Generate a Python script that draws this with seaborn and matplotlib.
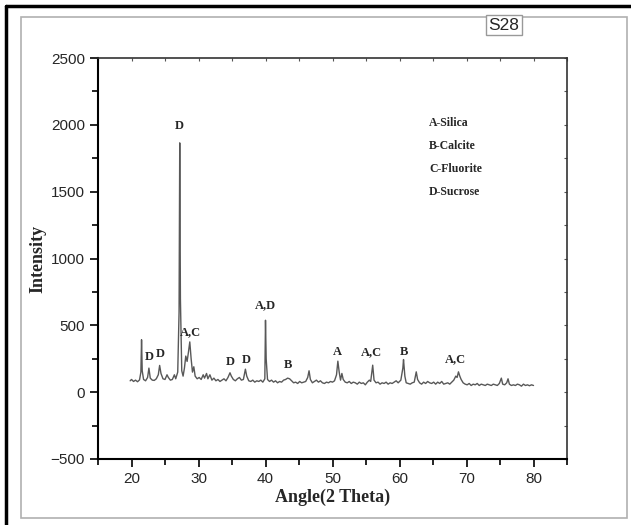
import matplotlib
matplotlib.use("Agg")
import matplotlib.pyplot as plt
from matplotlib.patches import Rectangle
from matplotlib.lines import Line2D
import seaborn as sns
import pandas as pd

# XRD pattern of sample S28
angle = [19.8, 20.0, 20.3, 20.6, 20.9, 21.2, 21.4, 21.5, 21.6, 21.8, 22.1, 22.4, 22.6, 22.8,
         23.1, 23.4, 23.7, 24.0, 24.2, 24.4, 24.7, 25.0, 25.3, 25.5, 25.8, 26.1, 26.4, 26.6,
         26.9, 27.1, 27.2, 27.3, 27.5, 27.7, 27.9, 28.1, 28.3, 28.5, 28.7, 28.9, 29.1, 29.3,
         29.5, 29.8, 30.1, 30.4, 30.7, 30.9, 31.2, 31.4, 31.7, 32.0, 32.3, 32.6, 32.9, 33.2,
         33.5, 33.8, 34.1, 34.4, 34.7, 34.9, 35.2, 35.5, 35.8, 36.1, 36.4, 36.7, 37.0, 37.2,
         37.5, 37.8, 38.1, 38.4, 38.7, 39.0, 39.3, 39.6, 39.9, 40.0, 40.1, 40.3, 40.6, 40.9,
         41.2, 41.5, 41.8, 42.1, 42.4, 42.7, 43.0, 43.3, 43.6, 43.9, 44.2, 44.5, 44.8, 45.1,
         45.4, 45.7, 46.0, 46.3, 46.5, 46.7, 47.0, 47.3, 47.6, 47.9, 48.2, 48.5, 48.8, 49.1,
         49.4, 49.7, 50.0, 50.3, 50.6, 50.8, 51.0, 51.2, 51.4, 51.6, 51.9, 52.2, 52.5, 52.8,
         53.1, 53.4, 53.7, 54.0, 54.3, 54.6, 54.9, 55.2, 55.5, 55.7, 56.0, 56.2, 56.5, 56.8,
         57.1, 57.4, 57.7, 58.0, 58.3, 58.6, 58.9, 59.2, 59.5, 59.8, 60.2, 60.5, 60.6, 60.8,
         61.0, 61.3, 61.6, 61.9, 62.2, 62.5, 62.7, 63.0, 63.3, 63.6, 63.9, 64.2, 64.5, 64.8,
         65.1, 65.4, 65.7, 66.0, 66.3, 66.6, 66.9, 67.2, 67.5, 67.8, 68.1, 68.4, 68.6, 68.8,
         69.0, 69.2, 69.5, 69.8, 70.1, 70.4, 70.7, 71.0, 71.3, 71.6, 71.9, 72.2, 72.5, 72.8,
         73.1, 73.4, 73.7, 74.0, 74.3, 74.6, 74.9, 75.2, 75.4, 75.7, 76.0, 76.2, 76.4, 76.7,
         77.0, 77.3, 77.6, 77.9, 78.2, 78.5, 78.8, 79.1, 79.4, 79.7, 80.0]
intensity = [85, 95, 80, 90, 78, 92, 150, 392, 160, 95, 85, 110, 180, 105,
             90, 88, 100, 130, 200, 140, 100, 95, 130, 110, 90, 95, 130, 100,
             150, 600, 1865, 700, 160, 120, 180, 270, 230, 300, 376, 250, 150, 190,
             120, 100, 110, 95, 130, 105, 140, 100, 130, 90, 105, 85, 95, 80,
             90, 100, 85, 110, 145, 120, 95, 85, 100, 110, 90, 95, 172, 120,
             85, 80, 90, 75, 85, 80, 90, 75, 100, 538, 250, 95, 80, 90,
             75, 85, 70, 80, 75, 90, 95, 105, 100, 85, 70, 75, 65, 80,
             70, 75, 80, 110, 160, 95, 70, 80, 90, 75, 85, 70, 65, 75,
             70, 80, 75, 85, 130, 232, 150, 90, 140, 95, 75, 70, 80, 65,
             75, 70, 60, 75, 65, 70, 55, 75, 90, 80, 202, 90, 70, 75,
             60, 70, 65, 75, 60, 70, 65, 75, 85, 70, 90, 180, 244, 120,
             70, 65, 60, 70, 75, 152, 95, 70, 60, 75, 65, 80, 70, 65,
             75, 60, 75, 65, 80, 60, 65, 70, 60, 75, 90, 120, 110, 152,
             120, 95, 70, 60, 55, 65, 50, 60, 55, 65, 50, 60, 55, 50,
             60, 55, 50, 60, 55, 50, 65, 105, 60, 55, 70, 100, 60, 50,
             55, 50, 60, 55, 45, 60, 50, 55, 48, 55, 50]

# peak labels
peak_labels = ["D", "D", "D", "A,C", "D", "D", "A,D", "B", "A", "A,C", "B", "A,C"]
peak_x = [22.6, 24.3, 27.2, 28.8, 34.8, 37.1, 40.0, 43.4, 50.8, 55.85, 60.6, 68.4]
peak_y = [264, 282, 1990, 446, 227, 239, 651, 202, 297, 297, 301, 247]

phases = ["A-Silica", "B-Calcite", "C-Fluorite", "D-Sucrose"]
phase_y = [2010, 1840, 1670, 1500]

df = pd.DataFrame({"angle": angle, "intensity": intensity})

sns.set_style("white")
fig = plt.figure(figsize=(6.31, 5.25), dpi=100)
W, H = 631, 525

# outer frames
fig.add_artist(Line2D([6 / W, 6 / W], [0, 1 - 6 / H], color="black", lw=2.5))
fig.add_artist(Line2D([6 / W, 1], [1 - 6 / H, 1 - 6 / H], color="black", lw=2.5))
fig.add_artist(Rectangle((21 / W, 1 - 518 / H), (627 - 21) / W, (518 - 17) / H,
                         fill=False, ec="#b0b0b0", lw=1.2))

ax = fig.add_axes([98 / W, 1 - 459 / H, (567 - 98) / W, (459 - 58) / H])
sns.lineplot(data=df, x="angle", y="intensity", ax=ax, color="#585858", lw=1.0)

ax.set_xlim(15, 85)
ax.set_ylim(-500, 2500)
ax.set_xticks(range(20, 81, 10))
ax.set_xticks(range(15, 86, 5), minor=True)
ax.set_yticks(range(-500, 2501, 500))
ax.set_yticks(range(-500, 2501, 250), minor=True)
ax.tick_params(which="major", direction="out", length=6, width=1.2, color="black",
               labelsize=11, left=True, bottom=True)
ax.tick_params(which="minor", direction="out", length=4, width=1.2, color="black",
               left=True, bottom=True)
for lab in ax.get_xticklabels() + ax.get_yticklabels():
    lab.set_family("Liberation Sans")

# small inward ticks on the top and right frame
top = ax.secondary_xaxis("top")
top.set_xticks(range(15, 86, 5))
top.tick_params(direction="in", length=2.5, width=0.8, color="#555555", labeltop=False)
right = ax.secondary_yaxis("right")
right.set_yticks(range(-500, 2501, 250))
right.tick_params(direction="in", length=2.5, width=0.8, color="#555555", labelright=False)
for sec in (top, right):
    for sp in sec.spines.values():
        sp.set_visible(False)

for side in ["left", "bottom"]:
    ax.spines[side].set_color("black")
    ax.spines[side].set_linewidth(1.5)
for side in ["top", "right"]:
    ax.spines[side].set_color("#333333")
    ax.spines[side].set_linewidth(1.2)

ax.set_xlabel("Angle(2 Theta)", family="Liberation Serif", fontweight="bold", fontsize=13,
              va="center")
ax.set_ylabel("Intensity", family="Liberation Serif", fontweight="bold", fontsize=13,
              va="center")
ax.xaxis.set_label_coords(0.5, -0.095)
ax.yaxis.set_label_coords(-0.128, 0.5)

for lab, x, y in zip(peak_labels, peak_x, peak_y):
    ax.text(x, y, lab, ha="center", va="center", family="Liberation Serif",
            fontweight="bold", fontsize=9)

for ph, y in zip(phases, phase_y):
    ax.text(64.4, y, ph, ha="left", va="center", family="Liberation Serif",
            fontweight="bold", fontsize=8.5)

fig.text(504 / W, 1 - 25 / H, "S28", ha="center", va="center", family="Liberation Sans",
         fontsize=12.5, bbox=dict(boxstyle="square,pad=0.15", fc="white", ec="#999999", lw=1))

fig.savefig("out.png", dpi=100)
